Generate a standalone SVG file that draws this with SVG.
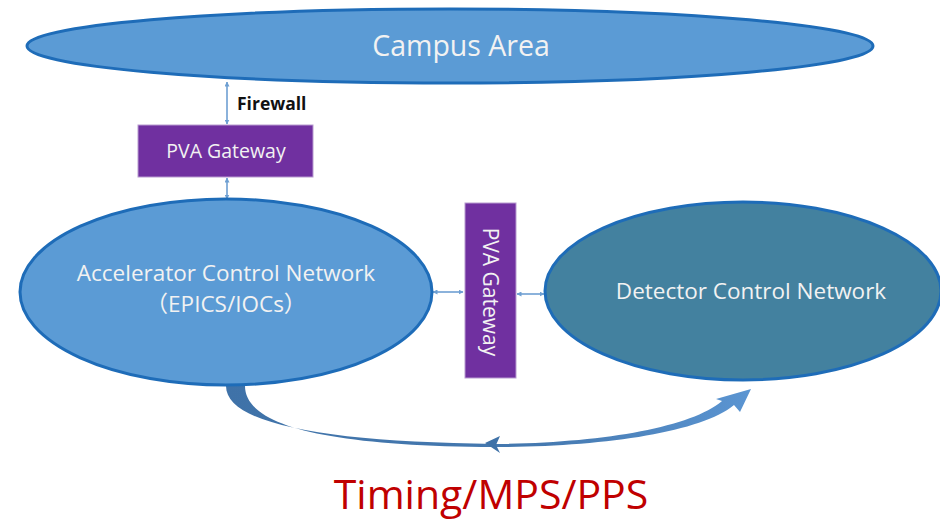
<svg xmlns="http://www.w3.org/2000/svg" width="940" height="521" viewBox="0 0 940 521">
  <defs>
    <style>
      .net { fill: #5B9BD5; stroke: #1E6CB8; stroke-width: 3; }
      .det { fill: #43819F; stroke: #1E6CB8; stroke-width: 3; }
      .gw { fill: #7030A0; stroke: #B89BD0; stroke-width: 1; }
      .lbl { font-family: "Open Sans", "Noto Sans", "Noto Sans CJK SC", sans-serif; fill: #F2F2F2; text-anchor: middle; }
      .link { stroke: #6E9FD2; stroke-width: 1.6; fill: none; marker-start: url(#head); marker-end: url(#head); }
    </style>
    <marker id="head" viewBox="0 0 10 10" refX="9" refY="5" markerWidth="5" markerHeight="5" orient="auto-start-reverse" markerUnits="userSpaceOnUse">
      <path d="M0,0 L10,5 L0,10 z" fill="#6E9FD2"/>
    </marker>
    <linearGradient id="bend" x1="0" y1="0" x2="1" y2="0">
      <stop offset="0" stop-color="#3F72A8"/>
      <stop offset="0.6" stop-color="#4579B0"/>
      <stop offset="1" stop-color="#5B95D2"/>
    </linearGradient>
  </defs>

  <rect width="940" height="521" fill="#FFFFFF"/>

  <!-- connectors -->
  <g id="connectors">
    <line class="link" x1="227" y1="82" x2="227" y2="124"/>
    <line class="link" x1="227" y1="178" x2="227" y2="199"/>
    <line class="link" x1="433" y1="292" x2="463" y2="292"/>
    <line class="link" x1="517" y1="294" x2="544" y2="294"/>
    <!-- timing loop: wide tail under the accelerator, head at the detector -->
    <path d="M226,386 C226,425 330,442 495,444 C600,443 690,428 722,401 L716,399 L751,389 L740,412 L734,405 C700,433 600,447 495,447 C320,446 245,424 245,386 Z" fill="url(#bend)"/>
    <path d="M485,443 L500,436 L496,445 L500,453 Z" fill="#3F72A8"/>
  </g>

  <g id="campus">
    <ellipse class="net" cx="450" cy="46" rx="423" ry="37"/>
    <text class="lbl" x="461" y="56" font-size="28.5">Campus Area</text>
  </g>

  <g id="firewall">
    <text x="237" y="110" font-family="'Open Sans', 'Noto Sans', sans-serif" font-size="17.5" font-weight="bold" fill="#111111">Firewall</text>
  </g>

  <g id="gateway-top">
    <rect class="gw" x="138" y="125" width="175" height="52"/>
    <text class="lbl" x="226" y="158" font-size="19.5">PVA Gateway</text>
  </g>

  <g id="accelerator">
    <ellipse class="net" cx="226" cy="292" rx="206" ry="93"/>
    <text class="lbl" x="226" y="281" font-size="22.5">Accelerator Control Network</text>
    <text class="lbl" x="226" y="312" font-size="22.5">（EPICS/IOCs）</text>
  </g>

  <g id="gateway-mid">
    <rect class="gw" x="465" y="203" width="51" height="175"/>
    <text class="lbl" font-size="21" transform="translate(483,292) rotate(90)">PVA Gateway</text>
  </g>

  <g id="detector">
    <ellipse class="det" cx="743" cy="291" rx="198" ry="89"/>
    <text class="lbl" x="751" y="299" font-size="22.5">Detector Control Network</text>
  </g>

  <g id="timing">
    <text x="491" y="509" font-family="'Open Sans', 'Noto Sans', sans-serif" font-size="41" fill="#C00000" text-anchor="middle">Timing/MPS/PPS</text>
  </g>
</svg>
